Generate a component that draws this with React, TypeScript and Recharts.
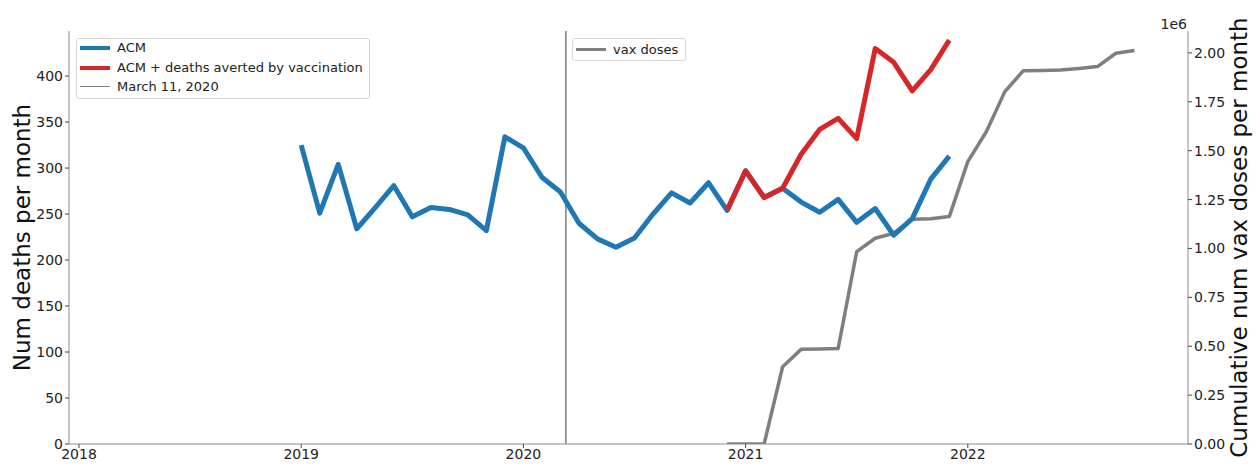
import React from "react";
import {
  ComposedChart,
  Line,
  XAxis,
  YAxis,
  ReferenceLine,
  Legend,
} from "recharts";

const FONT = "'DejaVu Sans', 'Liberation Sans', sans-serif";

// monthly series, first point = Jan 2019
const START_YEAR = 2019;

const acm: number[] = [
  325, 251, 304, 234, 257, 281, 247, 257, 255, 249, 232, 334,
  322, 290, 274, 240, 223, 214, 224, 250, 273, 262, 284, 254,
  297, 268, 278, 263, 252, 266, 241, 256, 227, 245, 288, 313,
];

// ACM + deaths averted, starts Dec 2020
const averted: number[] = [254, 297, 268, 278, 315, 342, 354, 332, 430, 415, 384, 407, 439];
const avertedStart = 23;

// cumulative vax doses, starts Dec 2020
const vaxDoses: number[] = [
  0, 0, 0, 395000, 484000, 486000, 489000, 984000, 1052000, 1078000, 1149000, 1152000,
  1163000, 1444000, 1597000, 1802000, 1909000, 1910000, 1912000, 1920000, 1930000,
  1998000, 2012000,
];
const vaxStart = 23;

const yearTicks = [2018, 2019, 2020, 2021, 2022];
const deathTicks = [0, 50, 100, 150, 200, 250, 300, 350, 400];
const vaxTicks = [0, 250000, 500000, 750000, 1000000, 1250000, 1500000, 1750000, 2000000];

const lockdownDate = 2020 + 70 / 366; // March 11, 2020

const monthCount = Math.max(acm.length, avertedStart + averted.length, vaxStart + vaxDoses.length);
const rows = Array.from({ length: monthCount }, (_, i) => ({
  t: START_YEAR + i / 12,
  acm: i < acm.length ? acm[i] : null,
  averted: i >= avertedStart && i - avertedStart < averted.length ? averted[i - avertedStart] : null,
  vax: i >= vaxStart && i - vaxStart < vaxDoses.length ? vaxDoses[i - vaxStart] : null,
}));

const BLUE = "#1f77b4";
const RED = "#d62728";
const GREY = "#7f7f7f";
const SPINE = "#8c8c8c";

const tickStyle = { fontSize: 14, fill: "#222", fontFamily: FONT };

function LegendBoxes() {
  const box: React.CSSProperties = {
    position: "absolute",
    background: "rgba(255,255,255,0.85)",
    border: "1px solid #d6d6d6",
    borderRadius: 3,
    boxSizing: "border-box",
    fontFamily: FONT,
    fontSize: 13,
    color: "#222",
  };
  const row = (top: number, color: string, width: number, text: string) => (
    <div style={{ position: "absolute", left: 0, top, height: 18, width: "100%" }}>
      <div
        style={{
          position: "absolute",
          left: 3,
          top: 9 - width / 2,
          width: 30,
          height: width,
          background: color,
        }}
      />
      <span style={{ position: "absolute", left: 40, top: 0, lineHeight: "18px", whiteSpace: "nowrap" }}>
        {text}
      </span>
    </div>
  );
  return (
    <div style={{ position: "relative", width: 1260, height: 0 }}>
      <div style={{ ...box, left: 76, top: 38, width: 294, height: 61 }}>
        {row(0, BLUE, 4, "ACM")}
        {row(19.5, RED, 4, "ACM + deaths averted by vaccination")}
        {row(38.5, GREY, 1.5, "March 11, 2020")}
      </div>
      <div style={{ ...box, left: 572, top: 38, width: 114, height: 23 }}>
        {row(1.5, GREY, 3, "vax doses")}
      </div>
    </div>
  );
}

export default function App() {
  return (
    <div style={{ position: "absolute", left: 0, top: 0, width: 1260, height: 470, background: "#fff" }}>
      <ComposedChart
        width={1260}
        height={470}
        data={rows}
        margin={{ top: 31, right: 0, bottom: 0, left: 0 }}
      >
        <XAxis
          dataKey="t"
          type="number"
          domain={[2017.955, 2022.991]}
          ticks={yearTicks}
          allowDataOverflow
          height={26}
          tick={tickStyle}
          tickSize={4}
          tickMargin={1}
          tickLine={{ stroke: "#444" }}
          axisLine={{ stroke: SPINE }}
          tickFormatter={(v: number) => String(Math.round(v))}
        />
        <XAxis
          xAxisId="top"
          dataKey="t"
          type="number"
          orientation="top"
          domain={[2017.955, 2022.991]}
          allowDataOverflow
          height={0}
          tick={false}
          tickLine={false}
          axisLine={{ stroke: SPINE }}
          label={{
            value: "Bhutan (BTN)",
            content: (p: any) => (
              <text x={628} y={27} textAnchor="middle" fontSize={21} fontFamily={FONT} fill="#111">
                {p.value}
              </text>
            ),
          }}
        />
        <YAxis
          yAxisId="left"
          domain={[0, 449]}
          ticks={deathTicks}
          allowDataOverflow
          width={69}
          tick={tickStyle}
          tickSize={4}
          tickMargin={2}
          tickLine={{ stroke: "#444" }}
          axisLine={{ stroke: SPINE }}
          label={{
            value: "Num deaths per month",
            content: (p: any) => (
              <text
                x={30}
                y={237.5}
                transform="rotate(-90, 30, 237.5)"
                textAnchor="middle"
                fontSize={23}
                fontFamily={FONT}
                fill="#111"
              >
                {p.value}
              </text>
            ),
          }}
        />
        <YAxis
          yAxisId="right"
          orientation="right"
          domain={[0, 2112000]}
          ticks={vaxTicks}
          allowDataOverflow
          width={72}
          tick={tickStyle}
          tickSize={4}
          tickMargin={2}
          tickLine={{ stroke: "#444" }}
          axisLine={{ stroke: SPINE }}
          tickFormatter={(v: number) => (v / 1e6).toFixed(2)}
          label={{
            value: "Cumulative num vax doses per month",
            content: (p: any) => (
              <g>
                <text x={1187} y={29} textAnchor="end" fontSize={14} fontFamily={FONT} fill="#222">
                  1e6
                </text>
                <text
                  x={1247}
                  y={237.5}
                  transform="rotate(-90, 1247, 237.5)"
                  textAnchor="middle"
                  fontSize={23}
                  fontFamily={FONT}
                  fill="#111"
                >
                  {p.value}
                </text>
              </g>
            ),
          }}
        />
        <ReferenceLine yAxisId="left" x={lockdownDate} stroke={GREY} strokeWidth={1.5} />
        <Line
          yAxisId="right"
          dataKey="vax"
          stroke={GREY}
          strokeWidth={3.5}
          strokeLinejoin="round"
          dot={false}
          activeDot={false}
          isAnimationActive={false}
        />
        <Line
          yAxisId="left"
          dataKey="acm"
          stroke={BLUE}
          strokeWidth={5}
          strokeLinejoin="round"
          dot={false}
          activeDot={false}
          isAnimationActive={false}
        />
        <Line
          yAxisId="left"
          dataKey="averted"
          stroke={RED}
          strokeWidth={5}
          strokeLinejoin="round"
          dot={false}
          activeDot={false}
          isAnimationActive={false}
        />
        <Legend
          verticalAlign="middle"
          layout="horizontal"
          wrapperStyle={{ position: "absolute", left: 0, top: 0, width: 1260, height: 0, margin: 0 }}
          content={() => <LegendBoxes />}
        />
      </ComposedChart>
    </div>
  );
}
